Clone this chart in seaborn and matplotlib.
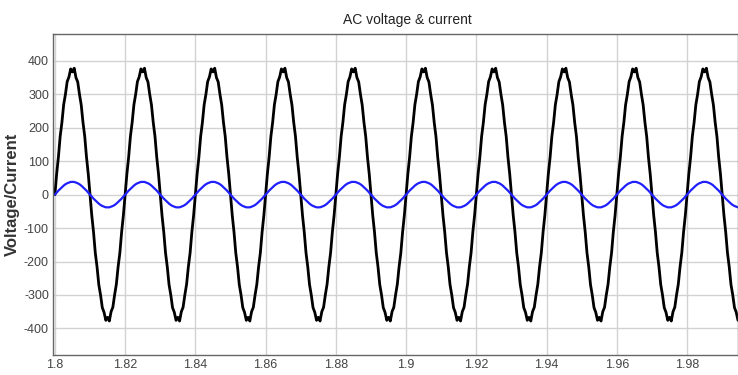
import numpy as np
import pandas as pd
import seaborn as sns
import matplotlib.pyplot as plt

voltage_cycle = [0, 62, 112, 174, 216, 269, 300, 338, 352, 376,
                 367, 378, 350, 337, 300, 268, 216, 174, 112, 62,
                 0, -62, -112, -174, -216, -269, -300, -338, -352, -376,
                 -367, -378, -350, -337, -300, -268, -216, -174, -112, -62]
current_cycle = [0, 6, 12, 17, 22, 27, 31, 34, 36, 38,
                 38, 38, 36, 34, 31, 27, 22, 17, 12, 6,
                 0, -6, -12, -17, -22, -27, -31, -34, -36, -38,
                 -38, -38, -36, -34, -31, -27, -22, -17, -12, -6]
n_cycles = 10
t_start, t_end, dt = 1.8, 1.995, 0.0005

x_ticks = [1.8, 1.82, 1.84, 1.86, 1.88, 1.9, 1.92, 1.94, 1.96, 1.98]
x_labels = ["1.8", "1.82", "1.84", "1.86", "1.88", "1.9", "1.92", "1.94", "1.96", "1.98"]
y_ticks = [-400, -300, -200, -100, 0, 100, 200, 300, 400]

t = np.arange(t_start, t_end + dt / 2, dt)
df = pd.DataFrame({
    "time": t,
    "voltage": np.tile(voltage_cycle, n_cycles)[:len(t)],
    "current": np.tile(current_cycle, n_cycles)[:len(t)],
})

sns.set_style("white")
plt.rcParams["font.family"] = ["Liberation Sans Narrow", "Liberation Sans", "DejaVu Sans"]
plt.rcParams["axes.unicode_minus"] = False

fig = plt.figure(figsize=(7.38, 3.75), dpi=100)
ax = fig.add_axes([0.072, 0.053, 0.928, 0.856])

sns.lineplot(data=df, x="time", y="voltage", color="black", linewidth=2.0, ax=ax)
sns.lineplot(data=df, x="time", y="current", color="#2020ff", linewidth=1.6, ax=ax)

ax.set_xlim(1.7995, 1.9945)
ax.set_ylim(-480, 480)
ax.set_xticks(x_ticks)
ax.set_xticklabels(x_labels)
ax.set_yticks(y_ticks)
ax.grid(True, color="#d2d2d2", linewidth=1.0)
ax.tick_params(direction="in", length=4, labelsize=9, colors="#444444", pad=3)
for s in ax.spines.values():
    s.set_color("#666666")
    s.set_linewidth(1.0)

ax.set_xlabel("")
ax.set_ylabel("Voltage/Current", fontsize=12, fontweight="bold", color="#333333")
ax.yaxis.set_label_coords(-0.049, 0.5)
ax.set_title("AC voltage & current", fontsize=10, color="#222222", pad=7)
ax.title.set_x(0.517)

fig.savefig("out.png", dpi=100)
